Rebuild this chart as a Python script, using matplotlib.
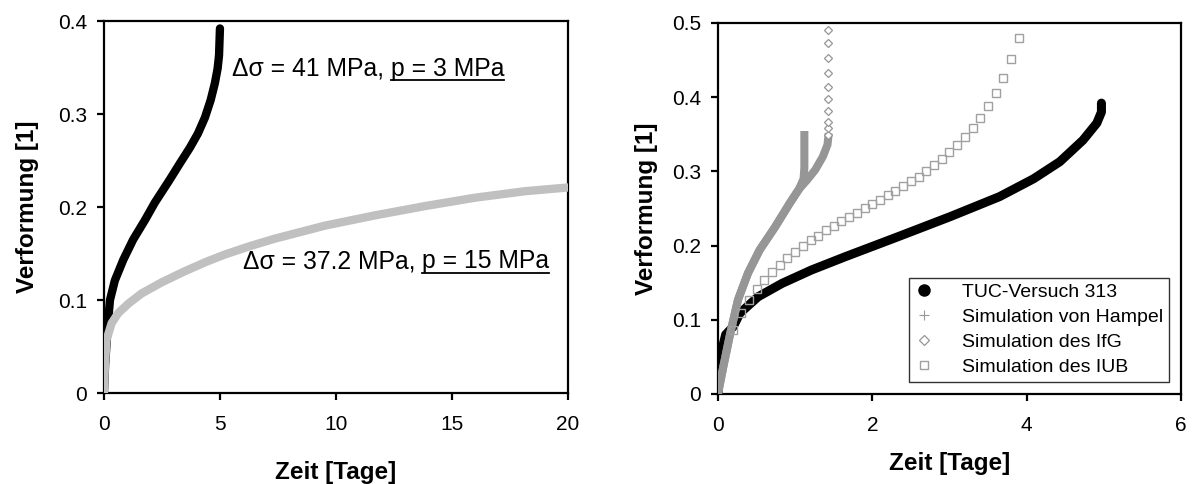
import numpy as np
import matplotlib
matplotlib.use("Agg")
import matplotlib.pyplot as plt
from matplotlib.lines import Line2D

plt.rcParams['font.family'] = ['Liberation Sans', 'DejaVu Sans']

# linkes Diagramm: zwei Versuche
zeit_41 = [0, 0.05, 0.16, 0.26, 0.47, 0.83, 1.26, 1.77, 2.2, 2.8, 3.25, 3.71, 4.05,
           4.35, 4.6, 4.78, 4.9, 4.96, 5.0]
verf_41 = [0, 0.03, 0.071, 0.10, 0.121, 0.143, 0.165, 0.186, 0.205, 0.228, 0.246,
           0.264, 0.279, 0.296, 0.315, 0.333, 0.349, 0.363, 0.392]

zeit_37 = [0, 0.04, 0.11, 0.33, 0.62, 1.05, 1.62, 2.49, 3.49, 4.4, 5.22, 6.3, 7.37,
           8.45, 9.53, 11.68, 13.84, 15.99, 18.15, 20.0]
verf_37 = [0, 0.028, 0.057, 0.075, 0.086, 0.096, 0.107, 0.119, 0.131, 0.141, 0.149,
           0.158, 0.166, 0.173, 0.18, 0.191, 0.201, 0.21, 0.217, 0.221]

# rechtes Diagramm: Versuch 313 und Simulationen
zeit_tuc = [0, 0.03, 0.1, 0.2, 0.285, 0.52, 0.83, 1.21, 1.65, 2.36, 3.01, 3.65, 4.09,
            4.43, 4.73, 4.91, 4.97, 4.97]
verf_tuc = [0, 0.05, 0.08, 0.091, 0.109, 0.131, 0.149, 0.167, 0.185, 0.213, 0.239,
            0.266, 0.29, 0.313, 0.342, 0.365, 0.38, 0.392]

zeit_hampel = [0, 0.07, 0.16, 0.26, 0.39, 0.54, 0.74, 0.93, 1.05, 1.11, 1.12, 1.12]
verf_hampel = [0, 0.037, 0.082, 0.127, 0.163, 0.194, 0.225, 0.257, 0.276, 0.29, 0.305, 0.349]

zeit_ifg = [0, 0.07, 0.16, 0.26, 0.39, 0.54, 0.74, 0.93, 1.05, 1.16, 1.26, 1.36, 1.42, 1.43]
verf_ifg = [0, 0.037, 0.082, 0.127, 0.163, 0.194, 0.225, 0.257, 0.276, 0.289, 0.302,
            0.32, 0.336, 0.346]
zeit_ifg_pkt = [1.43] * 10
verf_ifg_pkt = [0.349, 0.358, 0.367, 0.381, 0.397, 0.414, 0.433, 0.453, 0.473, 0.491]

zeit_iub = [0.2, 0.3, 0.4, 0.5, 0.6, 0.7, 0.8, 0.9, 1.0, 1.1, 1.2, 1.3, 1.4, 1.5,
            1.6, 1.7, 1.8, 1.9, 2.0, 2.1, 2.2, 2.3, 2.4, 2.5, 2.6, 2.7, 2.8, 2.9,
            3.0, 3.1, 3.2, 3.3, 3.4, 3.5, 3.6, 3.7, 3.8, 3.9]
verf_iub = [0.0867, 0.109, 0.126, 0.1415, 0.153, 0.164, 0.174, 0.183, 0.191, 0.199,
            0.207, 0.213, 0.221, 0.226, 0.233, 0.239, 0.244, 0.250, 0.256, 0.262,
            0.268, 0.274, 0.280, 0.287, 0.293, 0.301, 0.308, 0.317, 0.326, 0.335,
            0.346, 0.358, 0.372, 0.388, 0.405, 0.426, 0.451, 0.480]

GRAU_HELL = '#c0c0c0'
GRAU = '#969696'

fig = plt.figure(figsize=(11.92, 4.84), dpi=100)
ax1 = fig.add_axes([0.0872, 0.188, 0.3893, 0.7686])
ax2 = fig.add_axes([0.6023, 0.186, 0.3884, 0.7665])


def achsen_stil(ax, xpad, ypad):
    for s in ax.spines.values():
        s.set_linewidth(1.6)
    ax.tick_params(direction='out', length=5, width=1.6, labelsize=15,
                   top=False, right=False)
    ax.tick_params(axis='x', pad=11)
    ax.tick_params(axis='y', pad=7)
    ax.set_xlabel('Zeit [Tage]', fontsize=17.5, fontweight='bold', labelpad=xpad)
    ax.set_ylabel('Verformung [1]', fontsize=17.5, fontweight='bold', labelpad=ypad)


def fmt(v, pos):
    return '0' if v == 0 else f'{v:g}'


# 1. linkes Diagramm
ax1.plot(zeit_41, verf_41, color='black', lw=6, solid_capstyle='round', zorder=2)
ax1.plot(zeit_37, verf_37, color=GRAU_HELL, lw=6, solid_capstyle='round', zorder=3)
ax1.set_xlim(0, 20)
ax1.set_ylim(0, 0.4)
ax1.set_xticks([0, 5, 10, 15, 20])
ax1.set_yticks([0, 0.1, 0.2, 0.3, 0.4])
ax1.yaxis.set_major_formatter(plt.FuncFormatter(fmt))
achsen_stil(ax1, 19, 14)

t1 = ax1.text(5.52, 0.341, 'Δσ = 41 MPa, ', fontsize=17.8)
t2 = ax1.text(5.99, 0.134, 'Δσ = 37.2 MPa, ', fontsize=17.8)

# 2. rechtes Diagramm
ax2.plot(zeit_tuc, verf_tuc, color='black', lw=6.5, solid_capstyle='round', zorder=3)
ax2.plot(zeit_ifg, verf_ifg, color=GRAU, lw=5.8, zorder=4)
ax2.plot(zeit_ifg_pkt, verf_ifg_pkt, ls='none', marker='D', ms=4.5, mfc='white',
         mec=GRAU, mew=0.9, zorder=4)
ax2.plot(zeit_hampel, verf_hampel, color=GRAU, lw=5.8, zorder=4)
ax2.plot(zeit_iub, verf_iub, ls='none', marker='s', ms=5.6, mfc='none',
         mec='#a0a0a0', mew=1.0, zorder=5)
ax2.set_xlim(0, 6)
ax2.set_ylim(0, 0.5)
ax2.set_xticks([0, 2, 4, 6])
ax2.set_yticks([0, 0.1, 0.2, 0.3, 0.4, 0.5])
ax2.xaxis.set_major_formatter(plt.FuncFormatter(fmt))
ax2.yaxis.set_major_formatter(plt.FuncFormatter(fmt))
achsen_stil(ax2, 12, 10)

griffe = [
    Line2D([], [], ls='none', marker='o', ms=8, color='black'),
    Line2D([], [], ls='none', marker='+', ms=7, color=GRAU, mew=0.8),
    Line2D([], [], ls='none', marker='D', ms=5, mfc='white', mec=GRAU, mew=0.9),
    Line2D([], [], ls='none', marker='s', ms=6, mfc='white', mec='#a0a0a0', mew=1.0),
]
namen = ['TUC-Versuch 313', 'Simulation von Hampel', 'Simulation des IfG',
         'Simulation des IUB']
leg = ax2.legend(griffe, namen, loc='lower right', bbox_to_anchor=(0.974, 0.032),
                 fontsize=14, frameon=True, fancybox=False, borderpad=0.3,
                 labelspacing=0.38, handletextpad=1.5, handlelength=0.9,
                 borderaxespad=0)
leg.get_frame().set_edgecolor('black')
leg.get_frame().set_linewidth(1.0)

# unterstrichene Teile der Beschriftungen
fig.canvas.draw()
r = fig.canvas.get_renderer()
for t, teil in [(t1, 'p = 3 MPa'), (t2, 'p = 15 MPa')]:
    bb = t.get_window_extent(r)
    x0 = ax1.transData.inverted().transform((bb.x1, 0))[0]
    y0 = t.get_position()[1]
    u = ax1.text(x0, y0, teil, fontsize=17.8)
    fig.canvas.draw()
    ub = u.get_window_extent(r)
    yl = ax1.transData.transform((0, y0))[1] - 4.5
    ax1.add_line(Line2D([ub.x0, ub.x1], [yl, yl], transform=None, color='black', lw=1.3))

fig.savefig('out.png', dpi=100)
